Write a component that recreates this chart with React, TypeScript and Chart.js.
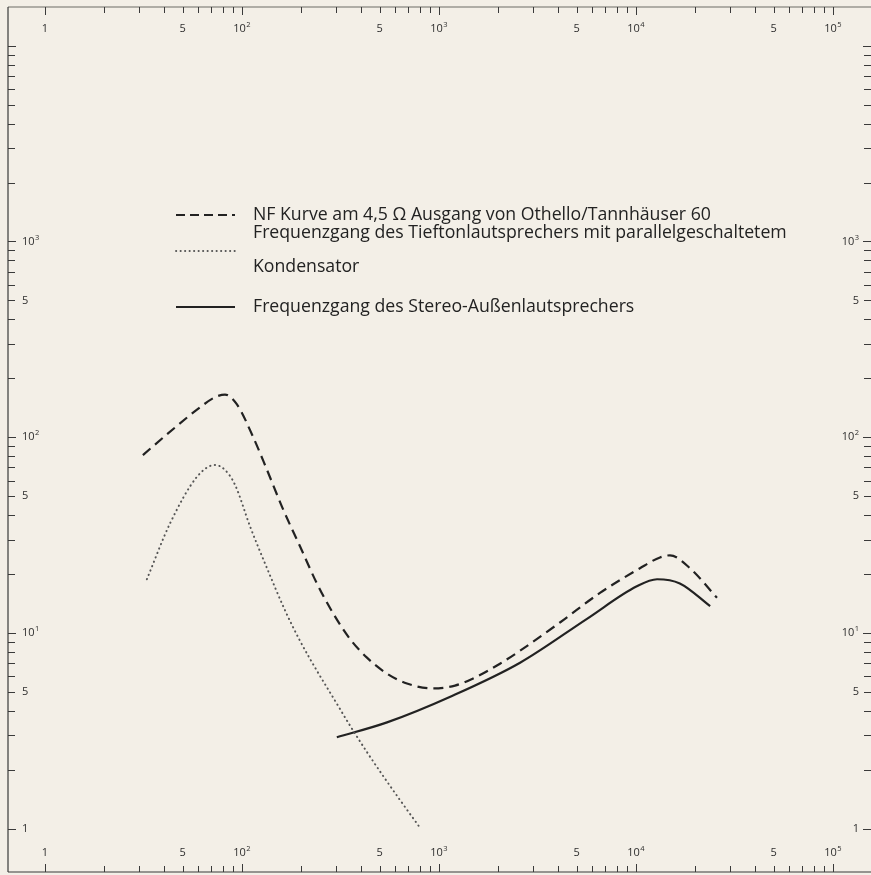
import React, { useEffect, useRef } from "react";
import { Chart, registerables } from "chart.js";
Chart.register(...registerables);

const W = 871;
const H = 875;

// NF curve (dashed)
const nfFreq = [31.4, 45.7, 61.2, 72.9, 82, 94.3, 114, 134, 162, 197, 240, 290, 353, 431, 545, 688, 932, 1206, 1523, 2040, 2577, 4113, 6566, 10480, 13240, 14880, 18800, 25780];
const nfLevel = [81, 112, 142, 160, 165, 147, 100, 68, 42.6, 27.7, 17.9, 12.6, 9.32, 7.47, 6.19, 5.51, 5.2, 5.38, 5.91, 6.96, 8.1, 11.3, 16.0, 21.4, 24.3, 24.9, 21.4, 15.1];

// Woofer with parallel capacitor (dotted)
const wooferFreq = [32.9, 43.1, 59.1, 72.9, 82, 92.2, 110, 134, 165, 197, 240, 290, 353, 431, 520, 634, 801];
const wooferLevel = [18.8, 36.2, 62.7, 72.1, 68, 57.1, 34.9, 21.4, 13.1, 9.11, 6.41, 4.68, 3.37, 2.46, 1.86, 1.4, 1.01];

// Stereo external speaker (solid)
const stereoFreq = [303, 545, 1180, 2580, 5640, 10100, 12800, 16700, 23800];
const stereoLevel = [2.93, 3.49, 4.79, 7.04, 11.8, 17.3, 18.8, 17.9, 13.7];

const xLabelValues = [10, 50, 100, 500, 1000, 5000, 10000, 50000, 100000];
const xLabelTexts = ["1", "5", "10²", "5", "10³", "5", "10⁴", "5", "10⁵"];
const yLabelValues = [1, 5, 10, 50, 100, 500, 1000];
const yLabelTexts = ["1", "5", "10¹", "5", "10²", "5", "10³"];

const legendLine1 = "NF Kurve am 4,5 Ω Ausgang von Othello/Tannhäuser 60";
const legendLine2a = "Frequenzgang des Tieftonlautsprechers mit parallelgeschaltetem";
const legendLine2b = "Kondensator";
const legendLine3 = "Frequenzgang des Stereo-Außenlautsprechers";

const X_MIN = 6.49;
const X_MAX = 156000;
const Y_MIN = 0.641;
const Y_MAX = 15780;

const BG = "#f3efe7";
const INK = "#222222";
const DOT = "#555555";

const SUP: Record<string, string> = { "¹": "1", "²": "2", "³": "3", "⁴": "4", "⁵": "5" };

function drawLabel(ctx: CanvasRenderingContext2D, text: string, x: number, y: number, align: "center" | "left" | "right") {
  const baseFont = "11px 'Open Sans', Lato, sans-serif";
  const supFont = "7.5px 'Open Sans', Lato, sans-serif";
  const last = text[text.length - 1];
  let base = text;
  let exp = "";
  if (SUP[last]) {
    base = text.slice(0, -1);
    exp = SUP[last];
  }
  ctx.font = baseFont;
  const bw = ctx.measureText(base).width;
  ctx.font = supFont;
  const ew = exp ? ctx.measureText(exp).width + 0.5 : 0;
  const total = bw + ew;
  let x0 = x;
  if (align === "center") x0 = x - total / 2;
  else if (align === "right") x0 = x - total;
  ctx.textAlign = "left";
  ctx.textBaseline = "middle";
  ctx.font = baseFont;
  ctx.fillText(base, x0, y);
  if (exp) {
    ctx.font = supFont;
    ctx.fillText(exp, x0 + bw + 0.5, y - 4);
  }
}

const bgPlugin = {
  id: "bg",
  beforeDraw(chart: any) {
    const { ctx, width, height } = chart;
    ctx.save();
    ctx.fillStyle = BG;
    ctx.fillRect(0, 0, width, height);
    ctx.restore();
  },
};

const axesPlugin = {
  id: "axesDraw",
  afterDatasetsDraw(chart: any) {
    const { ctx, chartArea: a, scales } = chart;
    const xs = scales.x;
    const ys = scales.y;
    ctx.save();
    ctx.lineWidth = 1.2;
    ctx.strokeStyle = "#6d6d66";
    ctx.beginPath();
    ctx.moveTo(a.left, a.top);
    ctx.lineTo(a.right, a.top);
    ctx.stroke();
    ctx.strokeStyle = "#3a3a3a";
    ctx.beginPath();
    ctx.moveTo(a.left, a.top);
    ctx.lineTo(a.left, a.bottom);
    ctx.moveTo(a.left, a.bottom);
    ctx.lineTo(a.right, a.bottom);
    ctx.stroke();

    ctx.lineWidth = 1;
    ctx.beginPath();
    for (let e = 1; e <= 5; e++) {
      for (let m = 1; m <= 9; m++) {
        const v = m * Math.pow(10, e);
        if (v > 100000) break;
        const px = Math.round(xs.getPixelForValue(v)) + 0.5;
        const len = m === 1 ? 8 : 6;
        ctx.moveTo(px, a.top);
        ctx.lineTo(px, a.top + len);
        ctx.moveTo(px, a.bottom);
        ctx.lineTo(px, a.bottom - len);
      }
    }
    for (let e = 0; e <= 4; e++) {
      for (let m = 1; m <= 9; m++) {
        const v = m * Math.pow(10, e);
        if (v > Y_MAX) break;
        const py = Math.round(ys.getPixelForValue(v)) + 0.5;
        const len = m === 1 ? 8 : 7;
        ctx.moveTo(a.left, py);
        ctx.lineTo(a.left + len, py);
        ctx.moveTo(a.right, py);
        ctx.lineTo(a.right - len, py);
      }
    }
    ctx.stroke();

    ctx.fillStyle = "#2e2e2e";
    xLabelValues.forEach((v, i) => {
      const px = xs.getPixelForValue(v);
      drawLabel(ctx, xLabelTexts[i], px, a.top + 22, "center");
      drawLabel(ctx, xLabelTexts[i], px, a.bottom - 19, "center");
    });
    yLabelValues.forEach((v, i) => {
      const py = ys.getPixelForValue(v);
      drawLabel(ctx, yLabelTexts[i], a.left + 14, py, "left");
      drawLabel(ctx, yLabelTexts[i], a.right - 12, py, "right");
    });
    ctx.restore();
  },
};

const legendPlugin = {
  id: "legendDraw",
  afterDraw(chart: any) {
    const { ctx } = chart;
    ctx.save();
    const x0 = 176;
    const x1 = 235;
    const tx = 253;
    ctx.strokeStyle = INK;
    ctx.lineWidth = 1.8;
    ctx.setLineDash([9, 5]);
    ctx.beginPath();
    ctx.moveTo(x0, 215);
    ctx.lineTo(x1, 215);
    ctx.stroke();

    ctx.strokeStyle = DOT;
    ctx.lineWidth = 1.8;
    ctx.lineCap = "round";
    ctx.setLineDash([0.3, 4.2]);
    ctx.beginPath();
    ctx.moveTo(x0, 251);
    ctx.lineTo(x1, 251);
    ctx.stroke();
    ctx.lineCap = "butt";

    ctx.strokeStyle = INK;
    ctx.lineWidth = 1.8;
    ctx.setLineDash([]);
    ctx.beginPath();
    ctx.moveTo(x0, 307);
    ctx.lineTo(x1, 307);
    ctx.stroke();

    // fit the font so the first line spans the same width as in the original
    ctx.font = "16px 'Open Sans', Lato, sans-serif";
    const w1 = ctx.measureText(legendLine1).width;
    const size = Math.max(12, Math.min(20, (16 * 458) / w1));
    ctx.font = `${size.toFixed(2)}px 'Open Sans', Lato, sans-serif`;
    ctx.fillStyle = "#222";
    ctx.textAlign = "left";
    ctx.textBaseline = "middle";
    ctx.fillText(legendLine1, tx, 215);
    ctx.fillText(legendLine2a, tx, 233);
    ctx.fillText(legendLine2b, tx, 267);
    ctx.fillText(legendLine3, tx, 307);
    ctx.restore();
  },
};

export default function App() {
  const ref = useRef<HTMLCanvasElement | null>(null);
  useEffect(() => {
    if (!ref.current) return;
    const toXY = (xs: number[], ys: number[]) => xs.map((x, i) => ({ x, y: ys[i] }));
    const chart = new Chart(ref.current, {
      type: "line",
      data: {
        datasets: [
          {
            label: legendLine1,
            data: toXY(nfFreq, nfLevel),
            borderColor: INK,
            borderWidth: 2.2,
            borderDash: [10, 6],
            pointRadius: 0,
            cubicInterpolationMode: "monotone",
            fill: false,
          },
          {
            label: legendLine2a + " " + legendLine2b,
            data: toXY(wooferFreq, wooferLevel),
            borderColor: DOT,
            borderWidth: 2,
            borderDash: [0.3, 4.4],
            borderCapStyle: "round",
            pointRadius: 0,
            cubicInterpolationMode: "monotone",
            fill: false,
          },
          {
            label: legendLine3,
            data: toXY(stereoFreq, stereoLevel),
            borderColor: INK,
            borderWidth: 2.2,
            pointRadius: 0,
            cubicInterpolationMode: "monotone",
            fill: false,
          },
        ],
      },
      options: {
        responsive: false,
        animation: false,
        devicePixelRatio: 1,
        layout: { padding: { left: 8, top: 7, right: 0, bottom: 3 } },
        plugins: { legend: { display: false }, tooltip: { enabled: false } },
        scales: {
          x: { type: "logarithmic", min: X_MIN, max: X_MAX, display: false },
          y: { type: "logarithmic", min: Y_MIN, max: Y_MAX, display: false },
        },
      },
      plugins: [bgPlugin, axesPlugin, legendPlugin],
    } as any);
    return () => chart.destroy();
  }, []);
  return (
    <div style={{ position: "absolute", left: 0, top: 0, width: W, height: H, background: BG }}>
      <canvas ref={ref} width={W} height={H} style={{ display: "block" }} />
    </div>
  );
}
